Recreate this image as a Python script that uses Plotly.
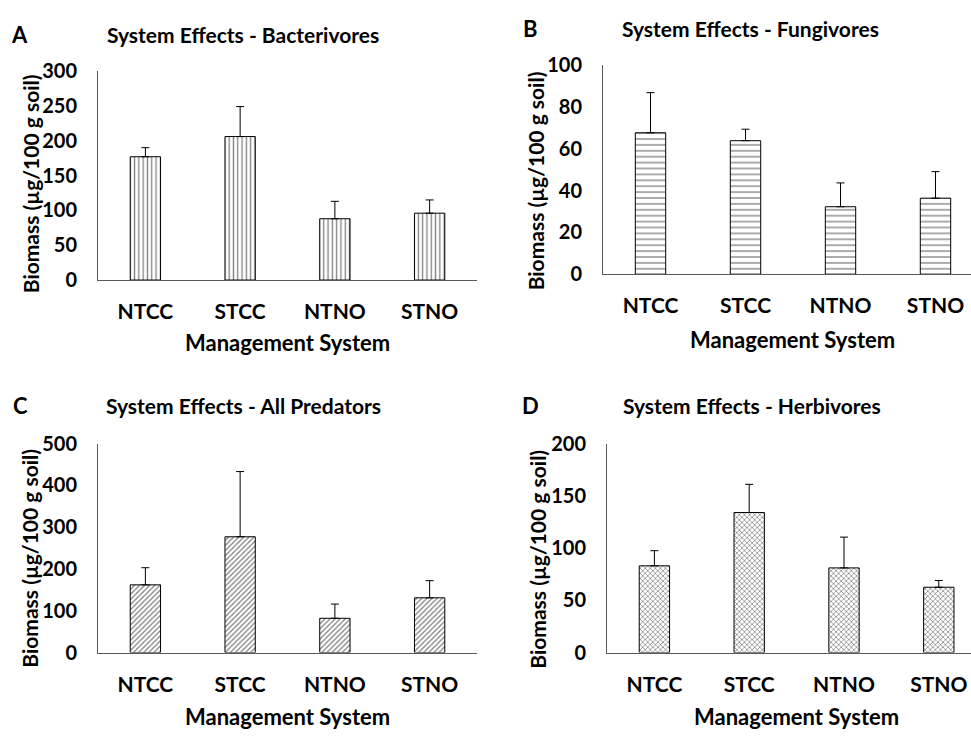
import plotly.graph_objects as go

categories = ["NTCC", "STCC", "NTNO", "STNO"]

bact_mean = [177, 206, 88, 96]
bact_se = [13, 43, 25, 19]
fung_mean = [67.7, 63.9, 32.3, 36.4]
fung_se = [19.2, 5.5, 11.4, 12.7]
pred_mean = [162, 277, 82, 131]
pred_se = [41, 156, 34, 41]
herb_mean = [83, 134, 81, 62.5]
herb_se = [14.5, 27, 29.5, 6.5]

W, H = 971, 740
FONT = "Lato"

def px(x):
    return x / W

def py(y):
    return 1 - y / H

panels = [
    dict(letter="A", title="System Effects - Bacterivores", mean=bact_mean, se=bact_se,
         ymax=300, dtick=50, shape="|", size=4.3, sol=0.3,
         x0=98, x1=477, y0=60, y1=276, xr=[-0.5, 3.5],
         lpos=(19, 22), tpos=(243, 22), ytpos=(30, 177), xtpos=(287, 341)),
    dict(letter="B", title="System Effects - Fungivores", mean=fung_mean, se=fung_se,
         ymax=100, dtick=20, shape="-", size=5.9, sol=0.22,
         x0=603, x1=971, y0=54, y1=270, xr=[-0.5, (971 - 603) / 95 - 0.5],
         lpos=(530, 16), tpos=(750, 16), ytpos=(535, 174), xtpos=(792, 337)),
    dict(letter="C", title="System Effects - All Predators", mean=pred_mean, se=pred_se,
         ymax=500, dtick=100, shape="/", size=3.6, sol=0.35,
         x0=98, x1=477, y0=445, y1=661, xr=[-0.5, 3.5],
         lpos=(20, 406), tpos=(244, 406), ytpos=(30, 564), xtpos=(287, 727)),
    dict(letter="D", title="System Effects - Herbivores", mean=herb_mean, se=herb_se,
         ymax=200, dtick=50, shape="x", size=3.6, sol=0.35,
         x0=607, x1=971, y0=445, y1=661, xr=[-0.5, (971 - 607) / 94.8 - 0.5],
         lpos=(530, 406), tpos=(752, 406), ytpos=(538, 565), xtpos=(796, 727)),
]

fig = go.Figure()
annotations = []
layout_axes = {}

for i, p in enumerate(panels, start=1):
    xa = "x" if i == 1 else f"x{i}"
    ya = "y" if i == 1 else f"y{i}"
    fig.add_trace(go.Bar(
        x=categories, y=p["mean"], width=0.32,
        xaxis=xa, yaxis=ya,
        marker=dict(color="white", line=dict(color="black", width=1),
                    pattern=dict(shape=p["shape"], fgcolor="black", bgcolor="white",
                                 size=p["size"], solidity=p["sol"])),
        error_y=dict(type="data", symmetric=False, array=p["se"],
                     arrayminus=[0] * len(p["se"]), color="black", thickness=1, width=4),
        showlegend=False,
    ))
    xkey = "xaxis" if i == 1 else f"xaxis{i}"
    ykey = "yaxis" if i == 1 else f"yaxis{i}"
    layout_axes[xkey] = dict(
        domain=[px(p["x0"]), px(p["x1"])], anchor=ya, range=p["xr"],
        showline=True, linecolor="#595959", linewidth=1, showgrid=False,
        ticks="", ticklabelstandoff=13,
        tickfont=dict(family=FONT, size=21, color="black", weight=700),
        fixedrange=True,
    )
    layout_axes[ykey] = dict(
        domain=[py(p["y1"]), py(p["y0"])], anchor=xa, range=[0, p["ymax"]],
        dtick=p["dtick"], tick0=0,
        showline=True, linecolor="#595959", linewidth=1, showgrid=False,
        zeroline=False, ticks="", ticklabelstandoff=16,
        tickfont=dict(family=FONT, size=20, color="black", weight=700),
        fixedrange=True,
    )
    annotations.append(dict(text=p["letter"], x=px(p["lpos"][0]), y=py(p["lpos"][1]),
                            xref="paper", yref="paper", showarrow=False,
                            xanchor="center", yanchor="middle",
                            font=dict(family=FONT, size=22, color="black", weight=700)))
    annotations.append(dict(text=p["title"], x=px(p["tpos"][0]), y=py(p["tpos"][1]),
                            xref="paper", yref="paper", showarrow=False,
                            xanchor="center", yanchor="middle",
                            font=dict(family=FONT, size=21, color="black", weight=700)))
    annotations.append(dict(text="Biomass (µg/100 g soil)", x=px(p["ytpos"][0]), y=py(p["ytpos"][1]),
                            xref="paper", yref="paper", showarrow=False, textangle=-90,
                            xanchor="center", yanchor="middle",
                            font=dict(family=FONT, size=21, color="black", weight=700)))
    annotations.append(dict(text="Management System", x=px(p["xtpos"][0]), y=py(p["xtpos"][1]),
                            xref="paper", yref="paper", showarrow=False,
                            xanchor="center", yanchor="middle",
                            font=dict(family=FONT, size=22, color="black", weight=700)))

fig.update_layout(
    width=W, height=H, autosize=False,
    margin=dict(l=0, r=0, t=0, b=0),
    paper_bgcolor="white", plot_bgcolor="white",
    annotations=annotations,
    **layout_axes,
)

fig.write_html("out.html")
